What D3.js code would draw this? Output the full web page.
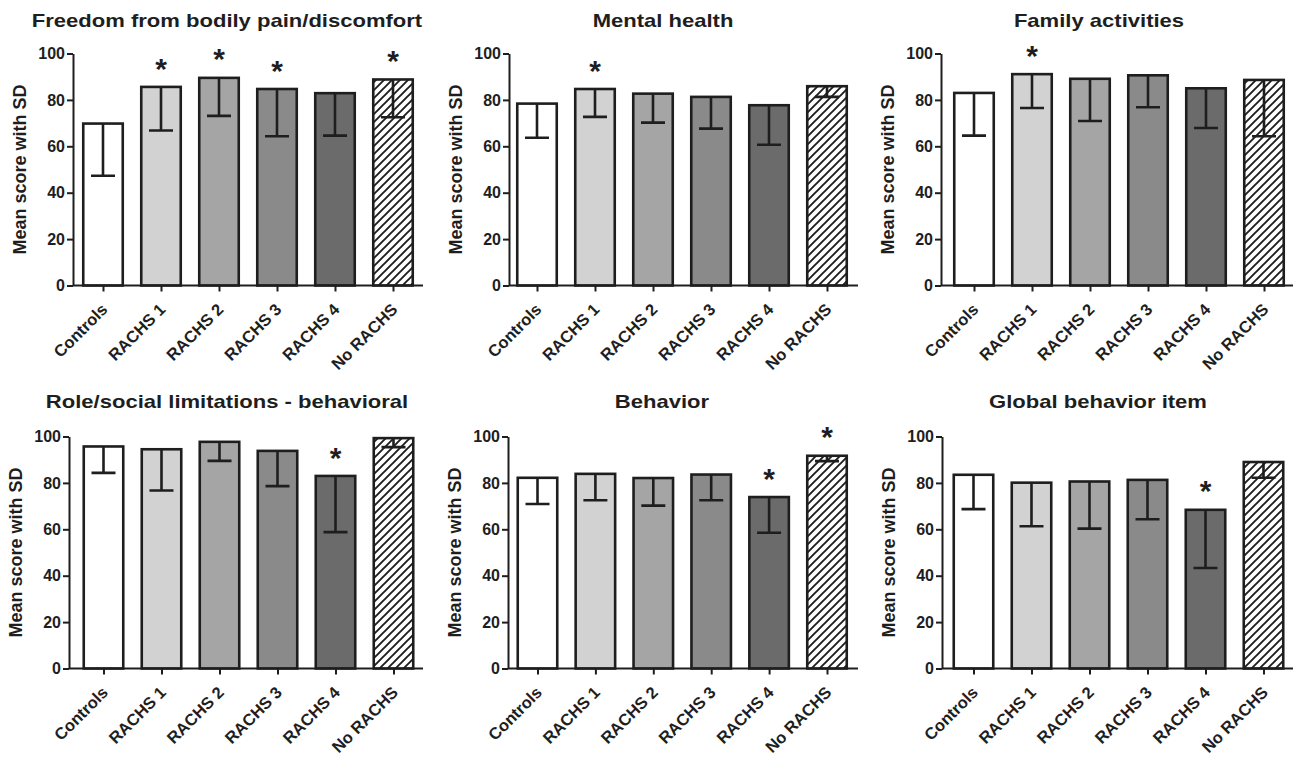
<html>
<head>
  <style>
    body{margin:0;background:#fff}
    .qol text{font-family:"Liberation Sans",Arial,sans-serif;font-weight:bold;fill:#1e1e1e}
    .qol .title{font-size:19px}
    .qol .ylab{font-size:18px}
    .qol .tick text{font-size:16px}
    .qol .xlab{font-size:16.5px}
    .qol .star{font-size:30px}
    .qol .axis path,.qol .axis line{stroke:#1e1e1e;stroke-width:2px}
    .qol .bar{stroke:#1e1e1e;stroke-width:2.6px}
    .qol .err{stroke:#1e1e1e;stroke-width:2.6px;fill:none}
  </style>
</head>
<body>
<div id="chart"></div>
<script src="https://d3js.org/d3.v7.min.js"></script>
<script>
var categories = ['Controls', 'RACHS 1', 'RACHS 2', 'RACHS 3', 'RACHS 4', 'No RACHS'];
var titles = [
  'Freedom from bodily pain/discomfort',
  'Mental health',
  'Family activities',
  'Role/social limitations - behavioral',
  'Behavior',
  'Global behavior item'
];
var yTicks = [0, 20, 40, 60, 80, 100];
var yLabel = 'Mean score with SD';

// means per panel (same order as categories)
var means = [
  [69.8, 85.6, 89.5, 84.7, 82.9, 88.8],
  [78.4, 84.7, 82.7, 81.3, 77.7, 85.9],
  [83.0, 91.1, 89.1, 90.6, 85.0, 88.6],
  [95.7, 94.5, 97.7, 93.8, 83.0, 99.3],
  [82.2, 83.9, 82.1, 83.6, 73.9, 91.7],
  [83.5, 80.1, 80.6, 81.3, 68.4, 89.0]
];
// standard deviations (drawn downward only)
var sds = [
  [22.5, 18.8, 16.4, 20.4, 18.3, 16.3],
  [14.7, 12.0, 12.5, 13.7, 17.0, 4.6],
  [18.4, 14.6, 18.2, 13.8, 17.1, 24.3],
  [11.4, 17.8, 8.2, 15.2, 24.2, 3.9],
  [11.3, 11.4, 11.9, 11.1, 15.4, 2.3],
  [14.8, 18.8, 20.3, 17.0, 25.1, 6.8]
];
// significance marks
var stars = [
  [0, 1, 1, 1, 0, 1],
  [0, 1, 0, 0, 0, 0],
  [0, 1, 0, 0, 0, 0],
  [0, 0, 0, 0, 1, 0],
  [0, 0, 0, 0, 1, 1],
  [0, 0, 0, 0, 1, 0]
];

(function () {

  var
    width   = 1294,
    height  = 757,
    fills   = ['#ffffff', '#d2d2d2', '#a5a5a5', '#8a8a8a', '#6b6b6b', 'url(#hatch)'],
    barW    = 39.5,
    capW    = 24,
    // panel placement: y-axis x, x-axis end, first & last bar centre, y of 0 and 100, title centre
    layout  = [
      {ax: 73,  right: 423,  c0: 103,   c5: 393,   y0: 285.5, y1: 53.5,  tx: 227,  ty: 27},
      {ax: 509, right: 858,  c0: 537,   c5: 827,   y0: 285.5, y1: 53.5,  tx: 663,  ty: 27},
      {ax: 941, right: 1293, c0: 974,   c5: 1264,  y0: 285.5, y1: 53.5,  tx: 1099, ty: 27},
      {ax: 69,  right: 423,  c0: 103.5, c5: 393.5, y0: 668.5, y1: 436.5, tx: 227,  ty: 408},
      {ax: 508, right: 858,  c0: 537.5, c5: 827,   y0: 668.5, y1: 436.5, tx: 662,  ty: 408},
      {ax: 942, right: 1293, c0: 973.5, c5: 1263.5,y0: 668.5, y1: 436.5, tx: 1098, ty: 408}
    ],
    vis = d3.select('#chart').append('svg:svg')
      .attr('class', 'qol')
      .attr('width', width)
      .attr('height', height);

  vis.append('rect')
    .attr('width', width)
    .attr('height', height)
    .attr('fill', '#fff');

  // diagonal hatch for "No RACHS"
  vis.append('defs').append('pattern')
    .attr('id', 'hatch')
    .attr('patternUnits', 'userSpaceOnUse')
    .attr('width', 8)
    .attr('height', 8)
    .call(function (p) {
      p.append('rect').attr('width', 8).attr('height', 8).attr('fill', '#fff');
      p.append('path')
        .attr('d', 'M0,8L8,0M-2,2L2,-2M6,10L10,6')
        .attr('stroke', '#1e1e1e')
        .attr('stroke-width', 1.9);
    });

  layout.forEach(function (L, k) {
    var
      g = vis.append('svg:g'),
      x = d3.scalePoint().domain(categories).range([L.c0, L.c5]),
      y = d3.scaleLinear().domain([0, 100]).range([L.y0, L.y1]),
      rows = categories.map(function (c, i) {
        return {cat: c, mean: means[k][i], sd: sds[k][i], star: stars[k][i], fill: fills[i]};
      });

    // title (source text is slightly wide)
    g.append('text')
      .attr('class', 'title')
      .attr('text-anchor', 'middle')
      .attr('transform', 'translate(' + L.tx + ',' + L.ty + ') scale(1.16,1)')
      .text(titles[k]);

    // y label
    g.append('text')
      .attr('class', 'ylab')
      .attr('text-anchor', 'middle')
      .attr('transform', 'translate(' + (L.ax - 47) + ',' + ((L.y0 + L.y1) / 2) + ') rotate(-90)')
      .text(yLabel);

    // bars
    g.selectAll('rect.bar')
      .data(rows)
      .enter().append('rect')
      .attr('class', 'bar')
      .attr('x', function (d) { return x(d.cat) - barW / 2; })
      .attr('y', function (d) { return y(d.mean); })
      .attr('width', barW)
      .attr('height', function (d) { return y(0) - y(d.mean); })
      .attr('fill', function (d) { return d.fill; });

    // SD whiskers, downward with cap
    g.selectAll('path.err')
      .data(rows)
      .enter().append('path')
      .attr('class', 'err')
      .attr('d', function (d) {
        var cx = x(d.cat), lo = y(d.mean - d.sd);
        return 'M' + cx + ',' + y(d.mean) + 'V' + lo +
               'M' + (cx - capW / 2) + ',' + lo + 'H' + (cx + capW / 2);
      });

    // stars
    g.selectAll('text.star')
      .data(rows.filter(function (d) { return d.star; }))
      .enter().append('text')
      .attr('class', 'star')
      .attr('text-anchor', 'middle')
      .attr('x', function (d) { return x(d.cat); })
      .attr('y', function (d) { return y(d.mean) - 30; })
      .attr('dy', '0.72em')
      .text('*');

    // y axis
    g.append('g')
      .attr('class', 'axis')
      .attr('transform', 'translate(' + L.ax + ',0)')
      .call(d3.axisLeft(y).tickValues(yTicks).tickSize(6).tickSizeOuter(0).tickPadding(2));

    // x axis line + ticks
    g.append('line')
      .attr('class', 'axis')
      .attr('x1', L.ax).attr('x2', L.right)
      .attr('y1', L.y0).attr('y2', L.y0)
      .style('stroke', '#1e1e1e').style('stroke-width', '2px');

    var xa = g.append('g')
      .attr('class', 'axis')
      .attr('transform', 'translate(0,' + L.y0 + ')')
      .call(d3.axisBottom(x).tickSize(6).tickSizeOuter(0).tickFormat(''));
    xa.select('.domain').remove();

    g.selectAll('text.xlab')
      .data(categories)
      .enter().append('text')
      .attr('class', 'xlab')
      .attr('text-anchor', 'end')
      .attr('transform', function (d) {
        return 'translate(' + (x(d) + 1.5) + ',' + (L.y0 + 21) + ') rotate(-45)';
      })
      .attr('dy', '0.35em')
      .text(function (d) { return d; });
  });

})();
</script>
</body>
</html>
